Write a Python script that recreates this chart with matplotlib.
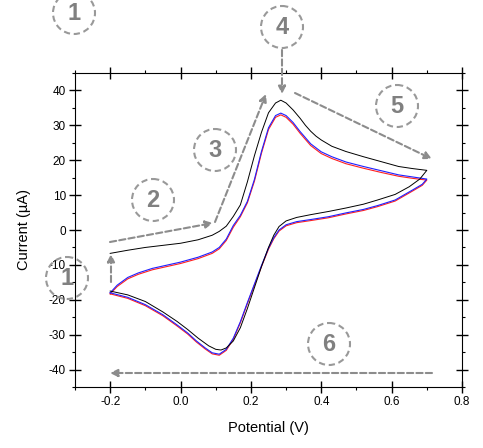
import matplotlib
matplotlib.use("Agg")
from matplotlib import pyplot as plt
from matplotlib import transforms as mtransforms
from matplotlib.patches import Circle, FancyArrowPatch
from matplotlib.ticker import MultipleLocator, FormatStrFormatter

plt.rcParams['font.family'] = ['Liberation Sans', 'DejaVu Sans']
plt.rcParams['axes.unicode_minus'] = False

# scan 1 (black), forward then reverse
black_fwd_v = [-0.2, -0.15, -0.1, -0.05, 0.0, 0.05, 0.09, 0.11, 0.13, 0.15, 0.17, 0.19,
               0.21, 0.23, 0.25, 0.27, 0.285, 0.30, 0.32, 0.34, 0.355, 0.37, 0.385, 0.40,
               0.43, 0.47, 0.52, 0.57, 0.62, 0.66, 0.70]
black_fwd_i = [-6.7, -5.8, -5.0, -4.4, -3.8, -2.8, -1.5, -0.4, 1.1, 3.9, 7.2, 13.8,
               21.3, 28.0, 33.6, 36.4, 37.2, 36.4, 34.4, 32.0, 30.0, 28.3, 26.9, 25.8,
               24.0, 22.5, 21.0, 19.6, 18.2, 17.6, 17.1]
black_rev_v = [0.70, 0.68, 0.65, 0.61, 0.56, 0.52, 0.47, 0.42, 0.37, 0.33, 0.30, 0.28,
               0.265, 0.25, 0.23, 0.21, 0.19, 0.17, 0.15, 0.13, 0.115, 0.10, 0.08, 0.05,
               0.02, -0.01, -0.05, -0.1, -0.15, -0.2]
black_rev_i = [17.1, 14.6, 12.4, 10.2, 8.6, 7.4, 6.3, 5.3, 4.4, 3.6, 2.6, 1.0,
               -1.5, -5.0, -10.5, -16.5, -22.5, -28.0, -31.8, -33.8, -34.4, -34.2, -33.2, -31.0,
               -28.5, -26.2, -23.5, -20.5, -18.6, -17.5]

# scans 2 and 3 (blue, red)
cyc_fwd_v = [-0.2, -0.18, -0.15, -0.12, -0.08, -0.04, 0.0, 0.05, 0.09, 0.11, 0.13, 0.15,
             0.17, 0.19, 0.21, 0.23, 0.25, 0.27, 0.285, 0.30, 0.32, 0.34, 0.37, 0.40,
             0.43, 0.47, 0.52, 0.57, 0.62, 0.66, 0.70]
blue_fwd_i = [-18.0, -15.8, -13.6, -12.3, -11.0, -10.1, -9.2, -7.8, -6.3, -5.0, -2.6, 1.3,
              4.2, 8.2, 14.5, 22.5, 29.3, 32.8, 33.5, 32.8, 30.8, 28.2, 24.7, 22.4,
              21.0, 19.5, 18.2, 17.0, 15.8, 15.2, 14.6]
red_fwd_i = [-18.3, -16.2, -14.0, -12.7, -11.4, -10.5, -9.6, -8.2, -6.7, -5.4, -3.0, 0.8,
             3.8, 7.8, 14.0, 22.0, 28.8, 32.3, 33.0, 32.3, 30.3, 27.7, 24.2, 21.9,
             20.5, 19.0, 17.7, 16.5, 15.4, 14.8, 14.3]
cyc_rev_v = [0.70, 0.687, 0.66, 0.61, 0.56, 0.52, 0.47, 0.42, 0.37, 0.33, 0.30, 0.28,
             0.265, 0.25, 0.23, 0.21, 0.19, 0.17, 0.15, 0.13, 0.11, 0.09, 0.07, 0.045,
             0.02, -0.01, -0.05, -0.1, -0.15, -0.2]
blue_rev_i = [14.6, 13.1, 11.5, 8.6, 7.0, 5.9, 4.9, 3.8, 3.0, 2.4, 1.5, 0.0,
              -2.2, -5.2, -10.2, -15.5, -20.8, -26.3, -31.0, -34.2, -35.6, -35.2, -33.8, -31.8,
              -29.5, -27.2, -24.3, -21.4, -19.3, -18.0]
red_rev_i = [14.3, 12.8, 11.2, 8.3, 6.7, 5.6, 4.6, 3.5, 2.7, 2.1, 1.2, -0.3,
             -2.5, -5.5, -10.5, -15.8, -21.1, -26.6, -31.3, -34.5, -35.9, -35.5, -34.1, -32.1,
             -29.8, -27.5, -24.6, -21.7, -19.6, -18.3]

W, H = 483, 448
fig = plt.figure(figsize=(W / 100, H / 100), dpi=100)
ax = fig.add_axes([75 / W, (H - 387) / H, 387 / W, 314 / H])

ax.plot(cyc_fwd_v + cyc_rev_v, red_fwd_i + red_rev_i, color='#ff2020', lw=0.8)
ax.plot(cyc_fwd_v + cyc_rev_v, blue_fwd_i + blue_rev_i, color='#2020ff', lw=0.8)
ax.plot(black_fwd_v + black_rev_v, black_fwd_i + black_rev_i, color='black', lw=0.7)

ax.set_xlim(-0.3, 0.8)
ax.set_ylim(-45, 45)
ax.xaxis.set_major_locator(MultipleLocator(0.2))
ax.xaxis.set_minor_locator(MultipleLocator(0.1))
ax.yaxis.set_major_locator(MultipleLocator(10))
ax.yaxis.set_minor_locator(MultipleLocator(5))
ax.xaxis.set_major_formatter(FormatStrFormatter('%.1f'))
ax.tick_params(which='major', direction='inout', length=9, width=1,
               top=True, right=True, labelsize=8.5, pad=2)
ax.tick_params(which='minor', direction='out', length=2.5, width=0.8,
               top=True, right=True)
ax.set_xlabel('Potential (V)', fontsize=10.5, labelpad=9)
ax.set_ylabel('Current (µA)', fontsize=10.5, labelpad=13)

# annotation badges and arrows, in pixel coords from the top-left corner
pix = mtransforms.Affine2D().scale(1, -1).translate(0, H)
grey = '#8c8c8c'

badges = [('1', 74, 13), ('4', 282, 27), ('5', 397, 106), ('3', 215, 150),
          ('2', 153, 200), ('1', 67, 278), ('6', 329, 344)]
for num, cx, cy in badges:
    fig.add_artist(Circle((cx, cy), 21, transform=pix, fill=False, edgecolor='#999999',
                          lw=1.5, linestyle=(0, (3, 1.8))))
    fig.text(cx, cy, num, transform=pix, ha='center', va='center', fontsize=17,
             fontweight='bold', color='#808080')

arrows = [((111, 282), (111, 254)), ((110, 242), (213, 223)), ((215, 222), (266, 94)),
          ((282, 50), (282, 94)), ((295, 93), (432, 159)), ((432, 373), (110, 373))]
for (x0, y0), (x1, y1) in arrows:
    fig.add_artist(FancyArrowPatch((x0, y0), (x1, y1), transform=pix, arrowstyle='-|>',
                                   mutation_scale=11, color=grey, lw=1.5,
                                   linestyle=(0, (3, 1.5)), shrinkA=0, shrinkB=0))
fig.add_artist(plt.Line2D([88, 111], [H - 282, H - 282], color=grey, lw=1.5,
                          linestyle=(0, (3, 1.5))))

fig.savefig('out.png', dpi=100)
